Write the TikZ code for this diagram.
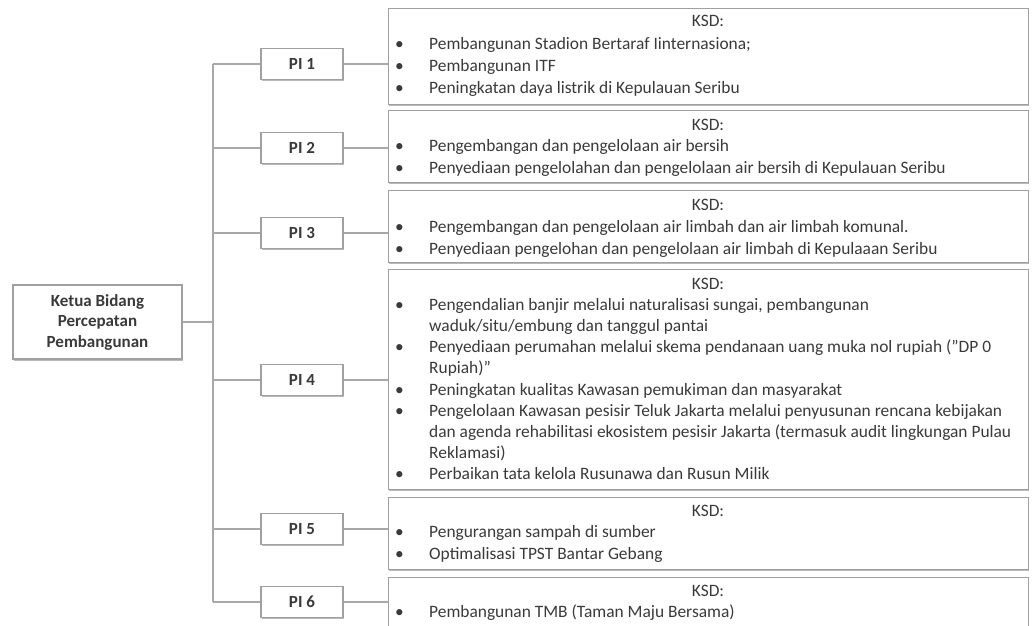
\documentclass[tikz,border=0pt]{standalone}
\usepackage{fontspec}
\setmainfont{Carlito}
\usetikzlibrary{shadows}
\definecolor{linegray}{HTML}{A8A8A8}
\definecolor{boxgray}{HTML}{A0A0A0}
\definecolor{txt}{HTML}{3A3A3A}
\begin{document}
\begin{tikzpicture}[x=1pt,y=-1pt,
  font=\fontsize{17.4}{21.5}\selectfont,
  conn/.style={draw=linegray, line width=1.8pt},
  frame/.style={draw=boxgray, line width=1.3pt, fill=white, inner sep=0pt,
    drop shadow={shadow xshift=0.6pt, shadow yshift=-1.6pt, fill=gray!55, opacity=1}},
  pibox/.style={frame, minimum width=82pt, minimum height=31pt, font=\fontsize{17}{20}\selectfont\bfseries, text=txt},
  ksdbox/.style={frame, anchor=north west, minimum width=640pt},
  title/.style={text=txt, inner sep=0pt, anchor=base},
  bul/.style={text=txt, inner sep=0pt, anchor=base west},
  line/.style={text=txt, inner sep=0pt, anchor=base west}
]
\useasboundingbox (0,0) rectangle (1033,626);

% left box
\node[frame, minimum width=169pt, minimum height=74pt, align=center, text=txt,
  font=\fontsize{17}{20.5}\selectfont\bfseries] (ketua) at (97.5,322) {Ketua Bidang\\Percepatan\\Pembangunan};

% PI boxes
\node[pibox] (pi1) at (302,64) {PI 1};
\node[pibox] (pi2) at (302,148) {PI 2};
\node[pibox] (pi3) at (302,233) {PI 3};
\node[pibox] (pi4) at (302,380) {PI 4};
\node[pibox] (pi5) at (302,529) {PI 5};
\node[pibox] (pi6) at (302,602) {PI 6};

% KSD boxes
\node[ksdbox, minimum height=96pt] (k1) at (388,8) {};
\node[ksdbox, minimum height=72pt] (k2) at (388,110) {};
\node[ksdbox, minimum height=72pt] (k3) at (388,190) {};
\node[ksdbox, minimum height=220pt] (k4) at (388,269) {};
\node[ksdbox, minimum height=72pt] (k5) at (388,497) {};
\node[ksdbox, minimum height=62pt] (k6) at (388,577) {};

% trunk
\coordinate (t1) at (213,64);
\coordinate (t2) at (213,148);
\coordinate (t3) at (213,233);
\coordinate (tk) at (213,322);
\coordinate (t4) at (213,380);
\coordinate (t5) at (213,529);
\coordinate (t6) at (213,602);
\draw[conn] (ketua.east) -- (tk);
\draw[conn] (t1) -- (t6);
\foreach \i in {1,...,6}{
  \draw[conn] (t\i) -- (pi\i.west);
  \draw[conn] (pi\i.east) -- (pi\i.east -| k\i.west);
}

% texts
\newcommand\myksdtitle[2]{\node[title] (#1) at (708,#2+5.5) {KSD:};}
\newcommand\myksditem[3]{\node[bul] (#1b) at (395,#2+5.5) {•};\node[line] (#1) at (429,#2+5.5) {#3};}
\newcommand\mycontline[3]{\node[line] (#1) at (429,#2+5.5) {#3};}

\myksdtitle{k1t}{21}
\myksditem{k1a}{44}{Pembangunan Stadion Bertaraf Iinternasiona;}
\myksditem{k1b}{66}{Pembangunan ITF}
\myksditem{k1c}{88}{Peningkatan daya listrik di Kepulauan Seribu}

\myksdtitle{k2t}{125}
\myksditem{k2a}{146}{Pengembangan dan pengelolaan air bersih}
\myksditem{k2b}{168}{Penyediaan pengelolahan dan pengelolaan air bersih di Kepulauan Seribu}

\myksdtitle{k3t}{205}
\myksditem{k3a}{227}{Pengembangan dan pengelolaan air limbah dan air limbah komunal.}
\myksditem{k3b}{249}{Penyediaan pengelohan dan pengelolaan air limbah di Kepulaaan Seribu}

\myksdtitle{k4t}{284}
\myksditem{k4a}{305}{Pengendalian banjir melalui naturalisasi sungai, pembangunan}
\mycontline{k4a2}{326}{waduk/situ/embung dan tanggul pantai}
\myksditem{k4b}{347}{Penyediaan perumahan melalui skema pendanaan uang muka nol rupiah (”DP 0}
\mycontline{k4b2}{368}{Rupiah)”}
\myksditem{k4c}{389.5}{Peningkatan kualitas Kawasan pemukiman dan masyarakat}
\myksditem{k4d}{410.5}{Pengelolaan Kawasan pesisir Teluk Jakarta melalui penyusunan rencana kebijakan}
\mycontline{k4d2}{431.5}{dan agenda rehabilitasi ekosistem pesisir Jakarta (termasuk audit lingkungan Pulau}
\mycontline{k4d3}{452.5}{Reklamasi)}
\myksditem{k4e}{474}{Perbaikan tata kelola Rusunawa dan Rusun Milik}

\myksdtitle{k5t}{511}
\myksditem{k5a}{532}{Pengurangan sampah di sumber}
\myksditem{k5b}{554}{Optimalisasi TPST Bantar Gebang}

\myksdtitle{k6t}{591}
\myksditem{k6a}{612}{Pembangunan TMB (Taman Maju Bersama)}
\end{tikzpicture}
\end{document}
